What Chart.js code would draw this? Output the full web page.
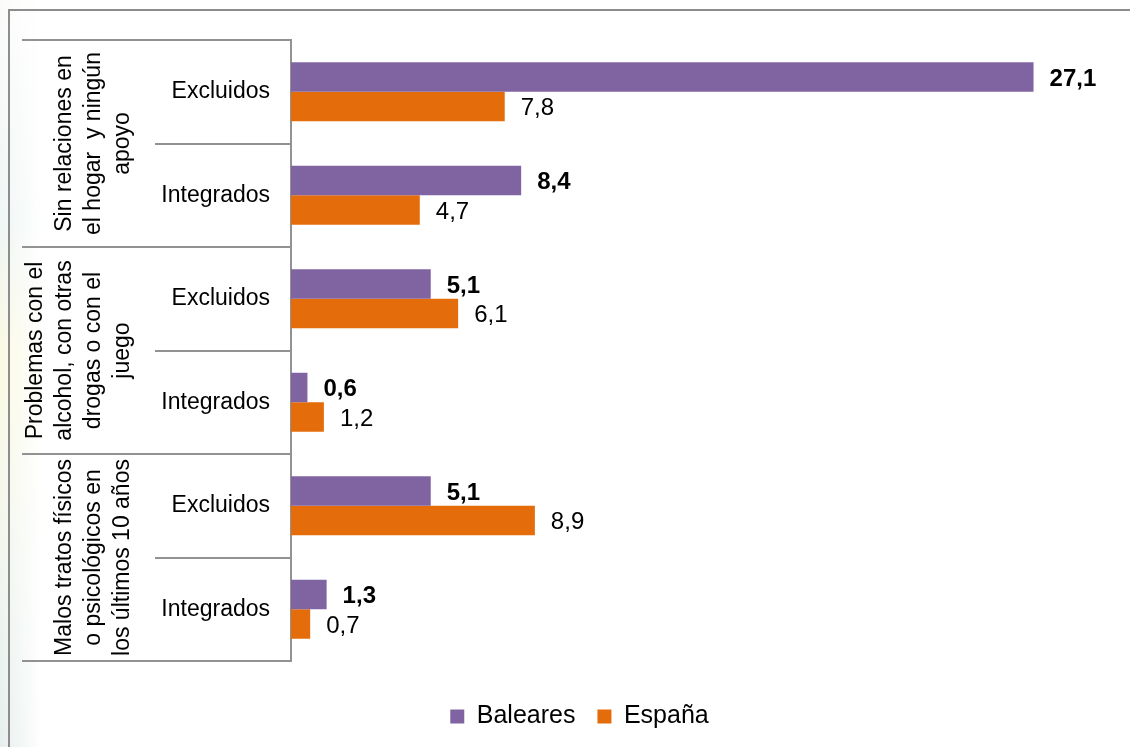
<!DOCTYPE html>
<html>
<head>
<meta charset="utf-8">
<title>Baleares / España</title>
<script src="https://cdn.jsdelivr.net/npm/chart.js@4.4.0/dist/chart.umd.min.js"></script>
<style>
  html, body { margin: 0; padding: 0; background: #fff; }
  #wrap { position: relative; width: 1130px; height: 747px; overflow: hidden; }
  #tint {
    position: absolute; left: 0; top: 0; width: 42px; height: 747px;
    background: linear-gradient(to bottom, #fbfcfa 0%, #eef5f4 30%, #fbf9e2 48%, #f6f8ea 62%, #eef4ef 80%, #e6efed 100%);
    -webkit-mask-image: linear-gradient(to right, #000 0%, rgba(0,0,0,0) 100%);
    mask-image: linear-gradient(to right, #000 0%, rgba(0,0,0,0) 100%);
  }
  canvas { position: absolute; left: 0; top: 0; }
</style>
</head>
<body>
<div id="wrap">
  <div id="tint"></div>
  <canvas id="grafico" width="1130" height="747"></canvas>
</div>
<script>
// categorías (subnivel) y grupos (primer nivel, en varias líneas)
var subLabels = ['Excluidos', 'Integrados', 'Excluidos', 'Integrados', 'Excluidos', 'Integrados'];
var groupLabels = [
  ['Sin relaciones en', 'el hogar  y ningún', 'apoyo'],
  ['Problemas con el', 'alcohol, con otras', 'drogas o con el', 'juego'],
  ['Malos tratos físicos', 'o psicológicos en', 'los últimos 10 años']
];
var seriesNames = ['Baleares', 'España'];
var baleares = [27.1, 8.4, 5.1, 0.6, 5.1, 1.3];
var espana = [7.8, 4.7, 6.1, 1.2, 8.9, 0.7];

var FONT = '"Liberation Sans", Arial, sans-serif';
var LINE = '#929292';

function formatValue(v) {
  return v.toFixed(1).replace('.', ',');
}

// marco exterior, tabla de categorías y etiquetas de valores
var tablaPlugin = {
  id: 'tabla',
  beforeDraw: function(chart) {
    var ctx = chart.ctx;
    ctx.save();
    ctx.strokeStyle = '#8d8d8d';
    ctx.lineWidth = 2;
    ctx.beginPath();
    ctx.moveTo(9, chart.height);
    ctx.lineTo(9, 10);
    ctx.lineTo(chart.width, 10);
    ctx.stroke();
    ctx.restore();
  },
  afterDraw: function(chart) {
    var ctx = chart.ctx;
    var y = chart.scales.y;
    var step = y.getPixelForValue(1) - y.getPixelForValue(0);
    var axisX = chart.chartArea.left;

    ctx.save();
    ctx.strokeStyle = LINE;
    ctx.lineWidth = 2;
    for (var k = 0; k <= subLabels.length; k++) {
      var yy = Math.round(y.getPixelForValue(0) - step / 2 + k * step);
      var x0 = (k % 2 === 0) ? 22 : 155;
      ctx.beginPath();
      ctx.moveTo(x0, yy);
      ctx.lineTo(axisX, yy);
      ctx.stroke();
    }

    // textos de grupo girados
    ctx.font = '23px ' + FONT;
    ctx.fillStyle = '#000';
    ctx.textAlign = 'center';
    ctx.textBaseline = 'alphabetic';
    groupLabels.forEach(function(lines, g) {
      var cy = (y.getPixelForValue(2 * g) + y.getPixelForValue(2 * g + 1)) / 2;
      lines.forEach(function(txt, j) {
        var bx = 129 - (lines.length - 1 - j) * 29;
        ctx.save();
        ctx.translate(bx, cy);
        ctx.rotate(-Math.PI / 2);
        ctx.fillText(txt, 0, 0);
        ctx.restore();
      });
    });

    // valores al final de cada barra
    ctx.textAlign = 'left';
    ctx.textBaseline = 'middle';
    chart.data.datasets.forEach(function(ds, di) {
      var meta = chart.getDatasetMeta(di);
      ctx.font = (di === 0 ? 'bold ' : '') + '24px ' + FONT;
      meta.data.forEach(function(bar, i) {
        ctx.fillText(formatValue(ds.data[i]), bar.x + 16, bar.y + 2);
      });
    });
    ctx.restore();
  }
};

var ctx = document.getElementById('grafico').getContext('2d');
var chart = new Chart(ctx, {
  type: 'bar',
  data: {
    labels: subLabels,
    datasets: [
      {
        label: seriesNames[0],
        data: baleares,
        backgroundColor: '#8064a2',
        borderWidth: 0,
        categoryPercentage: 0.57,
        barPercentage: 1.0
      },
      {
        label: seriesNames[1],
        data: espana,
        backgroundColor: '#e46c0a',
        borderWidth: 0,
        categoryPercentage: 0.57,
        barPercentage: 1.0
      }
    ]
  },
  options: {
    indexAxis: 'y',
    responsive: false,
    animation: false,
    devicePixelRatio: 1,
    layout: {
      padding: { left: 46, top: 40, right: 17, bottom: 8 }
    },
    scales: {
      x: {
        // eje invisible, solo deja hueco entre las barras y la leyenda
        min: 0,
        max: 30,
        afterFit: function(scale) {
          scale.height = 21;
        },
        grid: { display: false, drawTicks: false },
        border: { display: false },
        ticks: { display: false }
      },
      y: {
        afterFit: function(scale) {
          scale.width = 245;
        },
        grid: { display: false, drawTicks: false },
        border: { display: true, color: LINE, width: 2 },
        ticks: {
          padding: 21,
          color: '#000',
          font: { family: FONT, size: 23 }
        }
      }
    },
    plugins: {
      tooltip: { enabled: false },
      legend: {
        position: 'bottom',
        labels: {
          color: '#000',
          font: { family: FONT, size: 25 },
          boxWidth: 14,
          boxHeight: 14,
          padding: 22
        }
      }
    }
  },
  plugins: [tablaPlugin]
});
</script>
</body>
</html>
